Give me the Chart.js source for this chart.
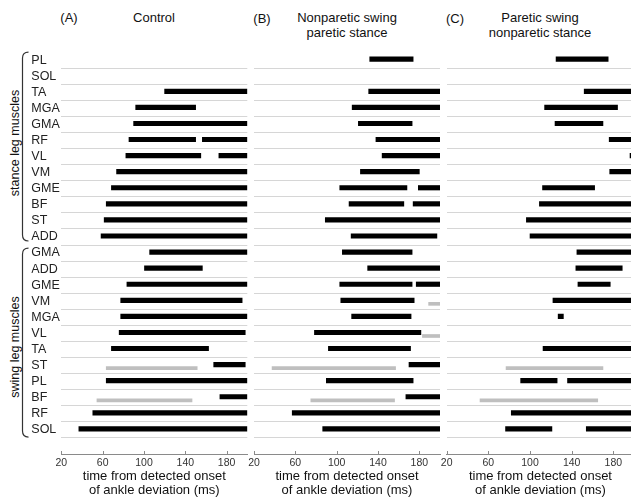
<!DOCTYPE html>
<html>
<head>
<meta charset="utf-8">
<script src="https://cdn.jsdelivr.net/npm/chart.js@4/dist/chart.umd.min.js"></script>
<style>
  html, body { margin: 0; padding: 0; background: #fff; overflow: hidden; width: 631px; height: 497px; }
  body { position: relative; font-family: 'Liberation Sans', Arial, sans-serif; color: #111; }
  canvas { position: absolute; top: 0; }
  .t { position: absolute; top: 10px; font-size: 13px; line-height: 15px; text-align: center; white-space: nowrap; transform: translateX(-50%); }
  .grp { position: absolute; font-size: 12.5px; white-space: nowrap; transform: translate(-50%, -50%) rotate(-90deg); }
</style>
</head>
<body>
<div class="t" style="left:69px">(A)</div>
<div class="t" style="left:154px">Control</div>
<div class="t" style="left:262px;top:11px">(B)</div>
<div class="t" style="left:347px">Nonparetic swing<br>paretic stance</div>
<div class="t" style="left:455px;top:11px">(C)</div>
<div class="t" style="left:540px">Paretic swing<br>nonparetic stance</div>
<div class="grp" style="left:15px;top:143px">stance leg muscles</div>
<div class="grp" style="left:15px;top:347px">swing leg muscles</div>

<canvas id="panelA" width="252" height="497" style="left:0px"></canvas>
<canvas id="panelB" width="201" height="497" style="left:244px"></canvas>
<canvas id="panelC" width="204" height="497" style="left:436px"></canvas>

<script>
// rows top to bottom: 12 stance leg muscles, then 12 swing leg muscles
const stanceMuscles = ['PL', 'SOL', 'TA', 'MGA', 'GMA', 'RF', 'VL', 'VM', 'GME', 'BF', 'ST', 'ADD'];
const swingMuscles = ['GMA', 'ADD', 'GME', 'VM', 'MGA', 'VL', 'TA', 'ST', 'PL', 'BF', 'RF', 'SOL'];
const rowLabels = stanceMuscles.concat(swingMuscles);

const xMin = 20;
const xMax = 200;
const xTickValues = [20, 60, 100, 140, 180];

// active periods (ms) per row, black = activity, gray = suppressed activity
const controlBlack = [
  [], [], [[120, 200]], [[92, 150]], [[90, 200]], [[85.5, 150], [156.5, 200]],
  [[82.5, 155], [172.5, 200]], [[73.5, 200]], [[68.5, 200]], [[63.5, 200]], [[61.5, 200]], [[58.5, 200]],
  [[105.5, 200]], [[100.5, 156.5]], [[83.5, 200]], [[77.5, 195]], [[77.5, 200]], [[76, 198]],
  [[68.5, 162.5]], [[167.5, 198]], [[63.5, 200]], [[173.5, 200]], [[50.5, 200]], [[37, 200]]
];
const controlGray = [
  [], [], [], [], [], [], [], [], [], [], [], [],
  [], [], [], [], [], [], [], [[63.5, 151.5]], [], [[54.5, 146.5]], [], []
];

const nonpareticBlack = [
  [[132, 174]], [], [[131, 200]], [[115, 200]], [[121, 173]], [[138, 200]],
  [[144, 200]], [[123, 180]], [[103, 168], [179, 200]], [[112, 165], [174, 200]], [[89, 200]], [[114, 197]],
  [[105.5, 173]], [[130, 200]], [[103, 173], [177, 200]], [[104, 175]], [[114.5, 172]], [[78.5, 181.5]],
  [[92, 171.5]], [[170, 200]], [[90, 174]], [[167, 200]], [[57, 200]], [[86.5, 200]]
];
const nonpareticGray = [
  [], [], [], [], [], [], [], [], [], [], [], [],
  [], [], [], [[189, 200]], [], [[183, 200]], [], [[37.5, 157]], [], [[75, 156]], [], []
];

const pareticBlack = [
  [[125, 175]], [], [[152, 200]], [[114, 184]], [[124, 170]], [[176, 200]],
  [[196, 200]], [[176.5, 200]], [[112, 162]], [[109, 200]], [[96.5, 200]], [[100, 200]],
  [[145, 200]], [[144, 188.5]], [[146, 177]], [[122, 200]], [[127, 132]], [],
  [[112.5, 200]], [], [[91, 126], [136, 200]], [], [[82, 200]], [[76.5, 121], [154, 200]]
];
const pareticGray = [
  [], [], [], [], [], [], [], [], [], [], [], [],
  [], [], [], [], [], [], [], [[77, 170]], [], [[52, 165]], [], []
];

// brace spans in row units (stance, swing)
const groupSpans = [[-0.5, 11.25], [11.7, 23.45]];

function segs(rows, shift) {
  const out = [];
  rows.forEach((list, i) => list.forEach(([s, e]) => out.push({ x: [s, e], y: i + shift })));
  return out;
}

const insideTicks = {
  id: 'insideTicks',
  afterDraw(chart) {
    const x = chart.scales.x, ctx = chart.ctx;
    ctx.save();
    ctx.strokeStyle = '#8a8a8a';
    ctx.lineWidth = 1;
    x.ticks.forEach(t => {
      const px = Math.round(x.getPixelForValue(t.value)) + 0.5;
      ctx.beginPath();
      ctx.moveTo(px, x.top);
      ctx.lineTo(px, x.top - 3);
      ctx.stroke();
    });
    ctx.restore();
  }
};

const braces = {
  id: 'braces',
  afterDraw(chart) {
    const y = chart.scales.y, ctx = chart.ctx;
    ctx.save();
    ctx.strokeStyle = '#333';
    ctx.lineWidth = 1.2;
    groupSpans.forEach(([a, b]) => {
      const y1 = y.getPixelForValue(a), y2 = y.getPixelForValue(b);
      const xr = 28.5, xl = 22.5;
      ctx.beginPath();
      ctx.moveTo(xr, y1);
      ctx.quadraticCurveTo(xl, y1, xl, y1 + 6);
      ctx.lineTo(xl, y2 - 6);
      ctx.quadraticCurveTo(xl, y2, xr, y2);
      ctx.stroke();
    });
    ctx.restore();
  }
};

function makePanel(id, black, gray, opts) {
  const plugins = [insideTicks];
  if (opts.braces) plugins.push(braces);
  return new Chart(document.getElementById(id), {
    type: 'bar',
    data: {
      datasets: [
        { label: 'suppressed', data: segs(gray, 0.16), backgroundColor: '#bfbfbf', barThickness: 3, grouped: false },
        { label: 'active', data: segs(black, -0.06), backgroundColor: '#000', barThickness: 4.5, grouped: false }
      ]
    },
    options: {
      indexAxis: 'y',
      responsive: false,
      animation: false,
      devicePixelRatio: 1,
      layout: { padding: { top: 36, bottom: 0, left: opts.padLeft, right: opts.padRight } },
      plugins: { legend: { display: false }, tooltip: { enabled: false } },
      scales: {
        x: {
          type: 'linear',
          min: xMin,
          max: xMax,
          afterBuildTicks: s => { s.ticks = xTickValues.map(v => ({ value: v })); },
          afterFit: s => { s.height = 43; },
          grid: { drawOnChartArea: false, drawTicks: false },
          border: { display: true, color: '#8a8a8a', width: 1 },
          ticks: {
            autoSkip: false,
            maxRotation: 0,
            padding: 3,
            color: '#333',
            font: { family: "'Liberation Sans', Arial, sans-serif", size: 10.5 }
          },
          title: {
            display: true,
            text: ['time from detected onset', 'of ankle deviation (ms)'],
            color: '#111',
            padding: 0,
            font: { family: "'Liberation Sans', Arial, sans-serif", size: 13, lineHeight: '14px' }
          }
        },
        y: {
          type: 'linear',
          reverse: true,
          min: -1,
          max: 24,
          afterFit: s => { s.width = opts.yWidth; },
          border: { display: false },
          grid: {
            drawTicks: false,
            lineWidth: 1,
            color: c => (c.tick && c.tick.value >= 0 && c.tick.value <= 23 ? '#d6d6d6' : 'rgba(0,0,0,0)')
          },
          ticks: {
            display: opts.showLabels,
            stepSize: 1,
            maxTicksLimit: 100,
            autoSkip: false,
            crossAlign: 'far',
            padding: 0,
            color: '#222',
            font: { family: "'Liberation Sans', Arial, sans-serif", size: 12.5 },
            callback: v => (rowLabels[v] !== undefined ? rowLabels[v] : '')
          }
        }
      }
    },
    plugins: plugins
  });
}

makePanel('panelA', controlBlack, controlGray, { padLeft: 31.3, padRight: 4.7, yWidth: 30, showLabels: true, braces: true });
makePanel('panelB', nonpareticBlack, nonpareticGray, { padLeft: 10, padRight: 5, yWidth: 0, showLabels: false });
makePanel('panelC', pareticBlack, pareticGray, { padLeft: 10.7, padRight: 5.8, yWidth: 0, showLabels: false });
</script>
</body>
</html>
